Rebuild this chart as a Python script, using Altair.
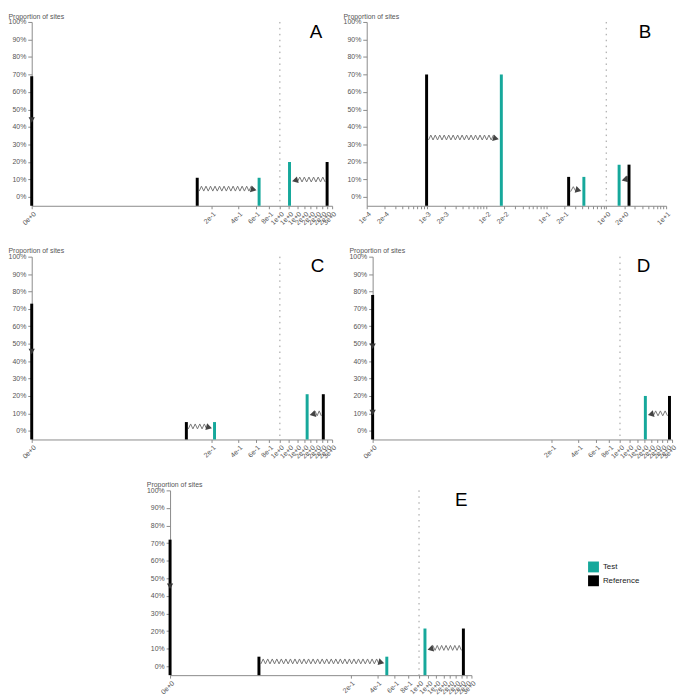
import math
import altair as alt
import pandas as pd

# ---------------- data ----------------
PANELS = ["A", "B", "C", "D", "E"]

ref_omega = {
    "A": [0.0, 0.132, 2.39],
    "B": [0.001, 0.2355, 2.40],
    "C": [0.0, 0.094, 2.24],
    "D": [0.0, 2.49],
    "E": [0.0, 0.0058, 2.27],
}
ref_prop = {
    "A": [0.69, 0.11, 0.20],
    "B": [0.70, 0.115, 0.185],
    "C": [0.73, 0.05, 0.21],
    "D": [0.78, 0.20],
    "E": [0.72, 0.055, 0.215],
}
test_omega = {
    "A": [0.646, 1.21],
    "B": [0.0177, 0.423, 1.64],
    "C": [0.217, 1.684],
    "D": [1.63],
    "E": [0.50, 1.125],
}
test_prop = {
    "A": [0.11, 0.20],
    "B": [0.70, 0.115, 0.185],
    "C": [0.05, 0.21],
    "D": [0.20],
    "E": [0.055, 0.215],
}
# arrows: reference omega -> test omega, drawn at a given proportion
arrow_from = {
    "A": [0.0, 0.132, 2.39],
    "B": [0.001, 0.2355, 2.40],
    "C": [0.0, 0.094, 2.24],
    "D": [0.0, 0.0, 2.49],
    "E": [0.0, 0.0058, 2.27],
}
arrow_to = {
    "A": [0.0, 0.646, 1.21],
    "B": [0.0177, 0.423, 1.64],
    "C": [0.0, 0.217, 1.684],
    "D": [0.0, 0.0, 1.63],
    "E": [0.0, 0.50, 1.125],
}
arrow_y = {
    "A": [0.44, 0.048, 0.10],
    "B": [0.34, 0.045, 0.105],
    "C": [0.455, 0.025, 0.10],
    "D": [0.485, 0.105, 0.10],
    "E": [0.455, 0.028, 0.105],
}

X_TICKS = [0, 0.2, 0.4, 0.6, 0.8, 1.0, 1.2, 1.4, 1.6, 1.8, 2.0, 2.2, 2.4, 2.6]
Y_TICKS = [0, 0.1, 0.2, 0.3, 0.4, 0.5, 0.6, 0.7, 0.8, 0.9, 1.0]
POW_DOMAIN = [0, 2.6]
LOG_DOMAIN = [0.0001, 10]
Y_DOMAIN = [-0.05, 1.0]
GROUPS = ["Test", "Reference"]

# ---------------- styles ----------------
TEAL = "#16a89b"
BLACK = "#000000"
GROUP_COLORS = {"Test": TEAL, "Reference": BLACK}
AXIS_GRAY = "#8a8a8a"
LABEL_GRAY = "#555555"
SQUIGGLE = "#777777"
HEAD = "#444444"
FONT = "Liberation Sans"


def make_panel(key, width, height, letter_dx, with_legend=False):
    is_log = key == "B"
    common_axis = dict(
        title=None, grid=False, labelAngle=-45, labelOverlap=False,
        labelFlush=False, labelFontSize=7, labelColor=LABEL_GRAY,
        labelFont=FONT, domainColor=AXIS_GRAY, tickColor=AXIS_GRAY,
        tickSize=3, labelPadding=1,
    )
    if is_log:
        dom = LOG_DOMAIN
        xscale = alt.Scale(type="log", domain=dom, nice=False, padding=0)
        xaxis = alt.Axis(format=".0e", tickCount=10, **common_axis)
        fwd = math.log10
        inv = lambda u: 10 ** u
    else:
        dom = POW_DOMAIN
        xscale = alt.Scale(type="pow", exponent=0.2, domain=dom, nice=False, padding=0)
        xaxis = alt.Axis(values=X_TICKS, format=".0e", **common_axis)
        fwd = lambda v: v ** 0.2
        inv = lambda u: u ** 5

    yscale = alt.Scale(domain=Y_DOMAIN, nice=False, zero=False, padding=0)
    yaxis = alt.Axis(
        values=Y_TICKS, format=".0%", grid=False, title="Proportion of sites",
        titleAngle=0, titleAlign="left", titleBaseline="middle",
        titleX=-24, titleY=-6, titleFontSize=7, titleFontWeight="normal",
        titleColor=LABEL_GRAY, titleFont=FONT, labelFontSize=7,
        labelColor=LABEL_GRAY, labelFont=FONT, domainColor=AXIS_GRAY,
        tickColor=AXIS_GRAY, tickSize=4, labelPadding=2,
    )

    def X(field):
        return alt.X(field, type="quantitative", scale=xscale, axis=xaxis, title=None)

    def Y(field):
        return alt.Y(field, type="quantitative", scale=yscale, axis=yaxis, title=None)

    groups = ["Test"] * len(test_omega[key]) + ["Reference"] * len(ref_omega[key])
    bars = pd.DataFrame({
        "omega": test_omega[key] + ref_omega[key],
        "prop": test_prop[key] + ref_prop[key],
        "group": groups,
        "colorval": [GROUP_COLORS[g] for g in groups],
    })

    if with_legend:
        legend = alt.Legend(
            title=None, orient="none", legendX=563, legendY=546,
            symbolType="square", symbolSize=121, symbolStrokeWidth=0,
            labelFontSize=8, labelFont=FONT, labelColor="#222222",
            rowPadding=3, labelOffset=4, padding=0,
        )
        color = alt.Color("group:N", legend=legend,
                          scale=alt.Scale(domain=GROUPS,
                                          range=[GROUP_COLORS[g] for g in GROUPS]))
    else:
        color = alt.Color("colorval:N", scale=None)

    # squiggly paths (decoration between reference and test omegas)
    ppu = width / (fwd(dom[1]) - fwd(dom[0]))
    amp = 2.5 / (height / (Y_DOMAIN[1] - Y_DOMAIN[0]))
    rows = []
    heads_r, heads_l, heads_d = [], [], []
    for k, (a, b, h) in enumerate(zip(arrow_from[key], arrow_to[key], arrow_y[key])):
        if a == b:
            heads_d.append({"omega": a, "prop": h})
            continue
        ua, ub = fwd(a), fwd(b)
        d = 1 if ub > ua else -1
        start, end = 2.0, abs(ub - ua) * ppu - 8.0
        n = max(2, int(round((end - start) / 2.3)))
        for i in range(n + 1):
            p = start + (end - start) * i / n
            rows.append({"id": k, "i": i, "omega": inv(ua + d * p / ppu),
                         "prop": h + (amp if i % 2 else -amp)})
        (heads_r if d > 0 else heads_l).append({"omega": b, "prop": h - amp * 0.4})

    layers = []
    one = pd.DataFrame({"v": [1]})
    layers.append(
        alt.Chart(one).mark_rule(color="#999999", strokeWidth=1, strokeDash=[1.5, 4.5])
        .encode(x=alt.X("v:Q", scale=xscale, axis=xaxis, title=None))
    )
    if rows:
        layers.append(
            alt.Chart(pd.DataFrame(rows)).mark_line(color=SQUIGGLE, strokeWidth=1)
            .encode(x=X("omega"), y=Y("prop"), detail="id:N", order="i:Q")
        )
    layers.append(
        alt.Chart(bars).mark_bar(size=3)
        .encode(x=X("omega"), y=Y("prop"), y2=alt.datum(Y_DOMAIN[0]), color=color)
    )
    if heads_r:
        layers.append(
            alt.Chart(pd.DataFrame(heads_r))
            .mark_point(shape="triangle-right", filled=True, size=48, color=HEAD,
                        opacity=1, xOffset=-5.5, angle=15)
            .encode(x=X("omega"), y=Y("prop"))
        )
    if heads_l:
        layers.append(
            alt.Chart(pd.DataFrame(heads_l))
            .mark_point(shape="triangle-left", filled=True, size=48, color=HEAD,
                        opacity=1, xOffset=5.5, angle=345)
            .encode(x=X("omega"), y=Y("prop"))
        )
    if heads_d:
        layers.append(
            alt.Chart(pd.DataFrame(heads_d))
            .mark_point(shape="triangle-down", filled=True, size=40, color="#333333",
                        opacity=1)
            .encode(x=X("omega"), y=Y("prop"))
        )
    # panel letter
    layers.append(
        alt.Chart(pd.DataFrame({"t": [key]}))
        .mark_text(fontSize=19, align="right", baseline="alphabetic", font=FONT,
                   color="#000000")
        .encode(text="t:N", x=alt.value(width + letter_dx), y=alt.value(16))
    )

    return alt.layer(*layers).properties(width=width, height=height)


A = make_panel("A", 304, 186, -10)
B = make_panel("B", 303, 186, -15)
C = make_panel("C", 304, 185, -8)
D = make_panel("D", 303, 185, -22)
E = make_panel("E", 305, 187, -4, with_legend=True)

spacer = alt.Chart(pd.DataFrame({"v": [0]})).mark_point(opacity=0).encode(
    x=alt.value(0), y=alt.value(0)
).properties(width=140, height=187)

row1 = alt.hconcat(A, B, spacing=35, bounds="flush")
row2 = alt.hconcat(C, D, spacing=41, bounds="flush")
row3 = alt.hconcat(spacer, E, spacing=0, bounds="flush")

chart = alt.vconcat(row1, row2, row3, spacing=20.5).properties(
    padding={"left": 0, "top": 0, "right": 0, "bottom": 0}
).configure(font=FONT).configure_view(stroke=None)

chart.save("out.html", embed_options={"renderer": "svg", "actions": False})
